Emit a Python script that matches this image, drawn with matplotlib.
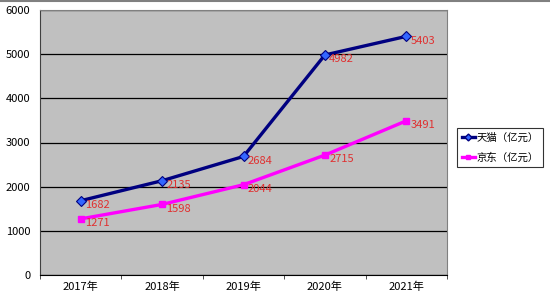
import matplotlib
matplotlib.use("Agg")
import matplotlib.pyplot as plt
import numpy as np
from matplotlib.lines import Line2D

plt.rcParams['font.family'] = ['Noto Sans CJK SC', 'DejaVu Sans']

years = ['2017年', '2018年', '2019年', '2020年', '2021年']
tmall = [1682, 2135, 2684, 4982, 5403]
jd = [1271, 1598, 2044, 2715, 3491]
names = ['天猫（亿元）', '京东（亿元）']

fig = plt.figure(figsize=(5.5, 2.93), dpi=100)
ax = fig.add_axes([40/550, 1-275/293, 407/550, 265/293])
ax.set_facecolor('#c0c0c0')

x = np.arange(len(years))
ax.plot(x, tmall, color='#000080', lw=2.4, marker='D', ms=5.5,
        mfc='#3366ff', mec='#000080', mew=0.8, zorder=3)
ax.plot(x, jd, color='#ff00ff', lw=2.4, marker='s', ms=4.5,
        mfc='#ff00ff', mec='#ff00ff', zorder=3)

for xi, v in zip(x, tmall):
    ax.annotate(str(v), (xi, v), xytext=(3, -3), textcoords='offset points',
                color='#e03030', fontsize=8, va='center', ha='left', zorder=4)
for xi, v in zip(x, jd):
    ax.annotate(str(v), (xi, v), xytext=(3, -3), textcoords='offset points',
                color='#e03030', fontsize=8, va='center', ha='left', zorder=4)

ax.set_xlim(-0.5, len(years) - 0.5)
ax.set_ylim(0, 6000)
ax.set_yticks(range(0, 6001, 1000))
ax.yaxis.grid(True, color='black', lw=0.9)
ax.set_axisbelow(True)
ax.tick_params(axis='y', length=0, labelsize=8, pad=7)
ax.set_xticks(x)
ax.set_xticklabels(years, fontsize=8)
ax.set_xticks(np.arange(-0.5, len(years)), minor=True)
ax.tick_params(axis='x', which='major', length=0, pad=5)
ax.tick_params(axis='x', which='minor', length=3, direction='out', color='#333333')
for s in ['top', 'right']:
    ax.spines[s].set_color('#808080')
ax.spines['left'].set_color('#404040')
ax.spines['bottom'].set_color('black')

handles = [Line2D([], [], color='#000080', lw=2.4, marker='D', ms=3.5,
                  mfc='#3366ff', mec='#000080'),
           Line2D([], [], color='#ff00ff', lw=2.4, marker='s', ms=3)]
leg = fig.legend(handles, names, loc='upper left', bbox_to_anchor=(457/550, 1-128/293),
                 prop={'size': 7.5}, frameon=True, fancybox=False, edgecolor='black',
                 handlelength=1.3, handletextpad=0.1, borderpad=0.45,
                 labelspacing=0.9, borderaxespad=0)
leg.get_frame().set_linewidth(0.8)

fig.add_artist(Line2D([0, 1], [0.997, 0.997], color='#808080', lw=1.5,
                      transform=fig.transFigure))

fig.savefig('out.png', dpi=100)
